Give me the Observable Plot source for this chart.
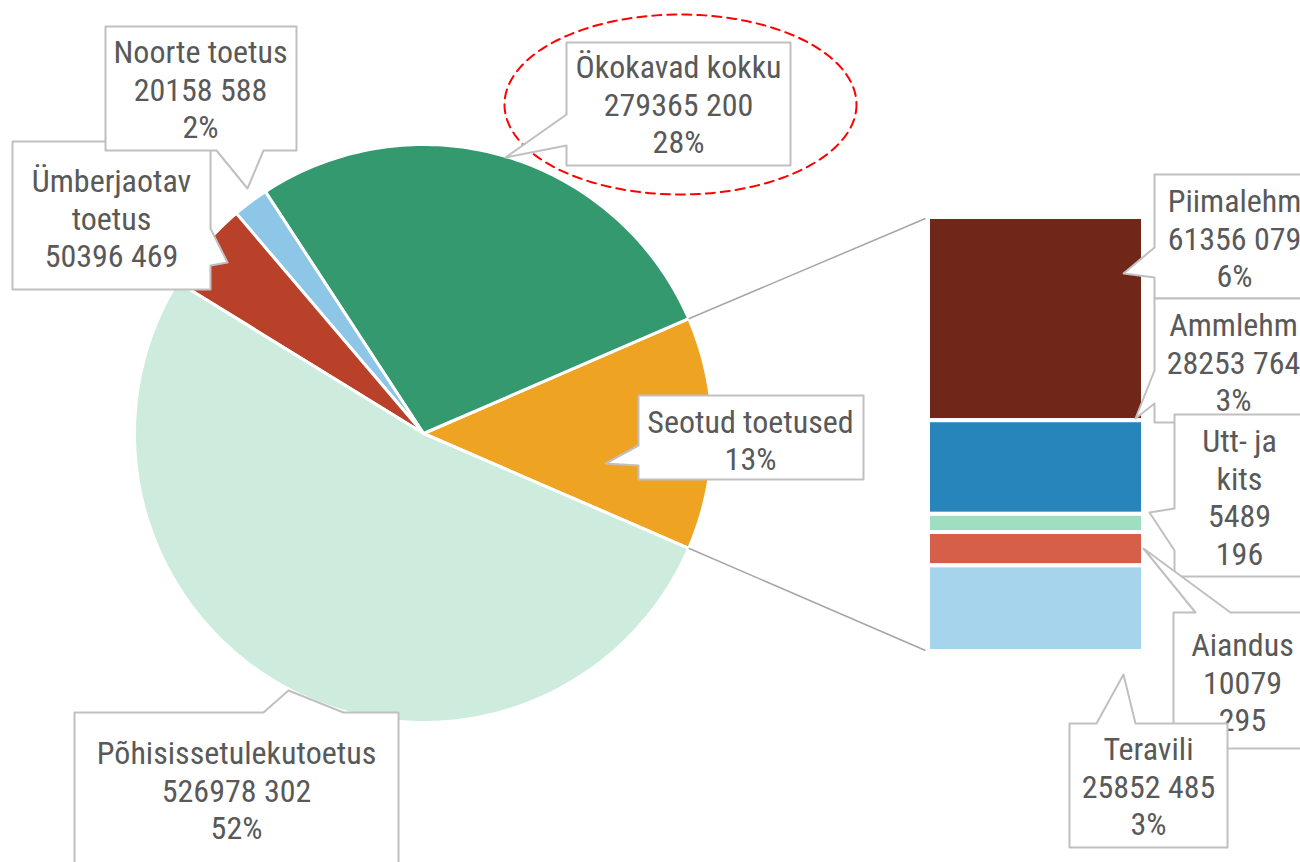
<!DOCTYPE html>
<html><head><meta charset="utf-8">
<script src="https://cdn.jsdelivr.net/npm/d3@7"></script>
<script src="https://cdn.jsdelivr.net/npm/@observablehq/plot@0.6"></script>
<style>body{margin:0;background:#fff;overflow:hidden}</style>
</head><body><div id="chart"></div>
<script>
// ---- data ----
// pie slices, counter-clockwise starting after the split slice (which sits at 3 o'clock)
const pieNames = ["Ökokavad kokku", "Noorte toetus", "Ümberjaotav toetus", "Põhisissetulekutoetus"];
const pieValues = [279365200, 20158588, 50396469, 526978302];
const pieColors = ["#35996f", "#8ec6e7", "#b9412a", "#cdecde"];
const splitName = "Seotud toetused";
const splitColor = "#efa322";
// bar (breakdown of split slice), top to bottom
const barNames = ["Piimalehm", "Ammlehm", "Utt- ja kits", "Aiandus", "Teravili"];
const barValues = [61356079, 28253764, 5489196, 10079295, 25852485];
const barColors = ["#70271a", "#2785bb", "#9ddfc0", "#d65f4a", "#a6d4ed"];

// ---- layout ----
const W = 1300, H = 862;
const cx = 423, cy = 433, R = 289;
const bar = {x1: 928, x2: 1143, y1: 217, y2: 651};
const FONT = "'Roboto Condensed', 'Liberation Sans Narrow', 'Arial Narrow', 'DejaVu Sans Condensed', Roboto, sans-serif";

const splitValue = d3.sum(barValues);
const total = d3.sum(pieValues) + splitValue;
const fmtVal = v => `${Math.floor(v / 1000)} ${String(v % 1000).padStart(3, "0")}`;
const pct = v => `${Math.round(v / total * 100)}%`;

// pie slice polygons
const a0 = splitValue / total * Math.PI;
const slices = [{name: splitName, value: splitValue, color: splitColor, start: -a0, end: a0}];
let acc = a0;
pieNames.forEach((n, i) => {
  const span = pieValues[i] / total * 2 * Math.PI;
  slices.push({name: n, value: pieValues[i], color: pieColors[i], start: acc, end: acc + span});
  acc += span;
});
const slicePts = slices.flatMap(s => {
  const n = Math.max(2, Math.ceil((s.end - s.start) / (Math.PI / 180)));
  const pts = [{name: s.name, color: s.color, x: cx, y: cy}];
  for (let k = 0; k <= n; k++) {
    const a = s.start + (s.end - s.start) * k / n;
    pts.push({name: s.name, color: s.color, x: cx + R * Math.cos(a), y: cy - R * Math.sin(a)});
  }
  return pts;
});

// bar segments
let cum = 0;
const barData = barNames.map((n, i) => {
  const y1 = bar.y1 + (bar.y2 - bar.y1) * cum / splitValue;
  cum += barValues[i];
  const y2 = bar.y1 + (bar.y2 - bar.y1) * cum / splitValue;
  return {name: n, value: barValues[i], color: barColors[i], x1: bar.x1, x2: bar.x2, y1, y2};
});

const links = [
  {x1: cx + R * Math.cos(a0), y1: cy - R * Math.sin(a0), x2: bar.x1 - 3, y2: bar.y1 + 1},
  {x1: cx + R * Math.cos(-a0), y1: cy - R * Math.sin(-a0), x2: bar.x1 - 3, y2: bar.y2 - 1}
];

// ellipse highlight
const ell = {cx: 680, cy: 104, rx: 176, ry: 90};
const ellPts = d3.range(0, 360, 2).map(t => ({x: ell.cx + ell.rx * Math.cos(t * Math.PI / 180), y: ell.cy + ell.ry * Math.sin(t * Math.PI / 180)}));

// callouts
const valOf = n => {
  const i = pieNames.indexOf(n); if (i >= 0) return pieValues[i];
  const j = barNames.indexOf(n); if (j >= 0) return barValues[j];
  return splitValue;
};
const callouts = [
  {name: "Ümberjaotav toetus", box: [12, 141, 210, 289], side: "right", a: 228, b: 265, tip: [227, 262], tx: 111, ty: 217,
   text: (n, v) => `Ümberjaotav\ntoetus\n${fmtVal(v)}`},
  {name: "Noorte toetus", box: [105, 26, 296, 150], side: "bottom", a: 216, b: 263, tip: [247, 188], tx: 200, ty: 88,
   text: (n, v) => `${n}\n${fmtVal(v)}\n${pct(v)}`},
  {name: "Ökokavad kokku", box: [566, 42, 790, 165], side: "left", a: 114, b: 145, tip: [505, 157], tx: 678, ty: 103,
   text: (n, v) => `${n}\n${fmtVal(v)}\n${pct(v)}`},
  {name: "Seotud toetused", box: [638, 395, 863, 479], side: "left", a: 445, b: 465, tip: [605, 463], tx: 750, ty: 439,
   text: (n, v) => `${n}\n${pct(v)}`},
  {name: "Põhisissetulekutoetus", box: [74, 712, 398, 880], side: "top", a: 263, b: 343, tip: [288, 690], tx: 236, ty: 789,
   text: (n, v) => `${n}\n${fmtVal(v)}\n${pct(v)}`},
  {name: "Piimalehm", box: [1154, 174, 1312, 298], side: "left", a: 247, b: 277, tip: [1123, 273], tx: 1234, ty: 237,
   text: (n, v) => `${n}\n${fmtVal(v)}\n${pct(v)}`},
  {name: "Ammlehm", box: [1154, 298, 1312, 422], side: "left", a: 370, b: 403, tip: [1135, 418], tx: 1233, ty: 361,
   text: (n, v) => `${n}\n${fmtVal(v)}\n${pct(v)}`},
  {name: "Utt- ja kits", box: [1174, 414, 1305, 576], side: "left", a: 508, b: 550, tip: [1149, 512], tx: 1239, ty: 496,
   text: (n, v) => `Utt- ja\nkits\n${Math.floor(v / 1000)}\n${String(v % 1000).padStart(3, "0")}`},
  {name: "Aiandus", box: [1173, 612, 1312, 748], side: "top", a: 1195, b: 1230, tip: [1143, 548], tx: 1242, ty: 681,
   text: (n, v) => `${n}\n${Math.floor(v / 1000)}\n${String(v % 1000).padStart(3, "0")}`},
  {name: "Teravili", box: [1069, 723, 1227, 847], side: "top", a: 1096, b: 1135, tip: [1123, 674], tx: 1148, ty: 785,
   text: (n, v) => `${n}\n${fmtVal(v)}\n${pct(v)}`}
];
function calloutPoly(c) {
  const [x1, y1, x2, y2] = c.box, t = {x: c.tip[0], y: c.tip[1]};
  const p = [{x: x1, y: y1}];
  if (c.side === "top") p.push({x: c.a, y: y1}, t, {x: c.b, y: y1});
  p.push({x: x2, y: y1});
  if (c.side === "right") p.push({x: x2, y: c.a}, t, {x: x2, y: c.b});
  p.push({x: x2, y: y2});
  if (c.side === "bottom") p.push({x: c.b, y: y2}, t, {x: c.a, y: y2});
  p.push({x: x1, y: y2});
  if (c.side === "left") p.push({x: x1, y: c.b}, t, {x: x1, y: c.a});
  return p;
}
const calloutMarks = callouts.flatMap(c => [
  Plot.line(calloutPoly(c), {x: "x", y: "y", curve: "linear-closed", fill: "white", stroke: "#c0c0c0", strokeWidth: 2}),
  Plot.text([c], {x: "tx", y: "ty", text: d => d.text(d.name, valOf(d.name)), fontSize: 32, lineHeight: 1.18,
    fill: "#595959", fontFamily: FONT, fontWeight: 400})
]);

const chart = Plot.plot({
  width: W, height: H, margin: 0,
  x: {domain: [0, W], range: [0, W], axis: null},
  y: {domain: [0, H], range: [0, H], axis: null},
  color: {type: "identity"},
  style: {background: "white"},
  marks: [
    Plot.line(slicePts, {x: "x", y: "y", z: "name", fill: "color", stroke: "white", strokeWidth: 3, strokeLinejoin: "round", curve: "linear-closed"}),
    Plot.link(links, {x1: "x1", y1: "y1", x2: "x2", y2: "y2", stroke: "#a6a6a6", strokeWidth: 1.5}),
    Plot.rect(barData, {x1: "x1", x2: "x2", y1: "y1", y2: "y2", fill: "color", stroke: "white", strokeWidth: 4}),
    Plot.line(ellPts, {x: "x", y: "y", curve: "linear-closed", stroke: "#ff0000", strokeWidth: 2, strokeDasharray: "9,6"}),
    ...calloutMarks
  ]
});
document.getElementById("chart").appendChild(chart);
</script>
</body></html>
